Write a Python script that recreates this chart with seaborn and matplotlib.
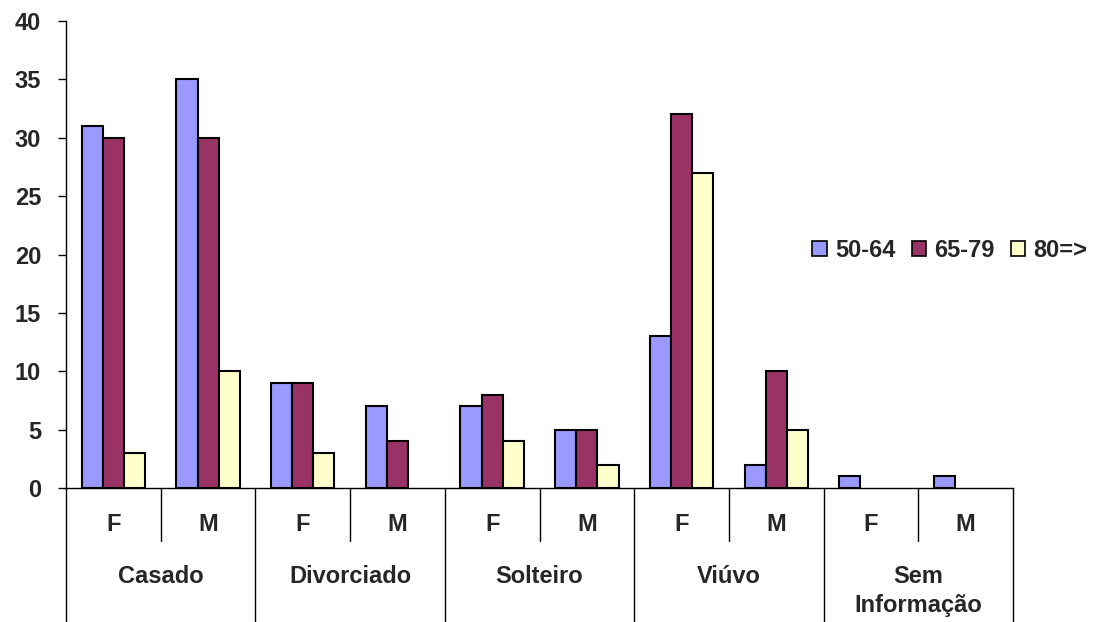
import pandas as pd
import matplotlib
matplotlib.use("Agg")
import matplotlib.pyplot as plt
import seaborn as sns

# data
estados = ["Casado", "Divorciado", "Solteiro", "Viúvo", "Sem\nInformação"]
sexos = ["F", "M"]
faixas = ["50-64", "65-79", "80=>"]
v_50_64 = [31, 35, 9, 7, 7, 5, 13, 2, 1, 1]
v_65_79 = [30, 30, 9, 4, 8, 5, 32, 10, 0, 0]
v_80 = [3, 10, 3, 0, 4, 2, 27, 5, 0, 0]
cores = ["#9999FF", "#993366", "#FFFFCC"]

slots = [f"{e}|{s}" for e in estados for s in sexos]
rows = []
for faixa, vals in zip(faixas, [v_50_64, v_65_79, v_80]):
    for slot, v in zip(slots, vals):
        rows.append({"slot": slot, "faixa": faixa, "valor": v})
df = pd.DataFrame(rows)

sns.set_style("white")
plt.rcParams["font.family"] = ["Liberation Sans", "DejaVu Sans"]
plt.rcParams["font.weight"] = "bold"
fs = 17

fig = plt.figure(figsize=(10.97, 6.22), dpi=100)
ax = fig.add_axes([0.0602, 0.2154, 0.8632, 0.7508])

sns.barplot(data=df, x="slot", y="valor", hue="faixa", order=slots,
            hue_order=faixas, palette=cores, width=0.67, gap=0,
            edgecolor="black", linewidth=1.5, ax=ax, saturation=1)
# empty categories show no bar at all (keep legend artists)
for p in ax.patches:
    if p.get_height() == 0 and p.get_label().startswith("_"):
        p.set_visible(False)

ax.set_xlim(-0.5, len(slots) - 0.5)
ax.set_ylim(0, 40)
ax.set_yticks(range(0, 41, 5))
ax.tick_params(axis="y", labelsize=fs, length=6, width=1, color="black",
               direction="out", left=True, pad=12)
for lab in ax.get_yticklabels():
    lab.set_fontweight("bold")
ax.set_xticks([])
ax.set_xlabel("")
ax.set_ylabel("")
for side in ["top", "right"]:
    ax.spines[side].set_visible(False)
for side in ["left", "bottom"]:
    ax.spines[side].set_color("black")
    ax.spines[side].set_linewidth(1)

# hierarchical category axis
tr = ax.get_xaxis_transform()
ax_h = 467.0
for i in range(len(slots) + 1):
    x = i - 0.5
    if i % 2 == 0:
        y_end = -134 / ax_h
    else:
        y_end = -53 / ax_h
    ax.plot([x, x], [0, y_end], transform=tr, color="black", lw=1, clip_on=False)
for i, slot in enumerate(slots):
    ax.text(i, -36 / ax_h, slot.split("|")[1], transform=tr, ha="center", va="center",
            fontsize=fs, fontweight="bold")
for j, e in enumerate(estados):
    ax.text(2 * j + 0.5, -77 / ax_h, e, transform=tr, ha="center", va="top",
            fontsize=fs, fontweight="bold", linespacing=1.35)

leg = ax.legend(loc="center", bbox_to_anchor=(0.866, 0.598), bbox_transform=fig.transFigure,
                ncol=3, frameon=False, fontsize=fs, handlelength=0.6, handleheight=0.6,
                handletextpad=0.35, columnspacing=0.7)
for t in leg.get_texts():
    t.set_fontweight("bold")
for h in leg.legend_handles:
    h.set_visible(True)
    h.set_edgecolor("black")
    h.set_linewidth(1.2)

fig.savefig("out.png", dpi=100)
